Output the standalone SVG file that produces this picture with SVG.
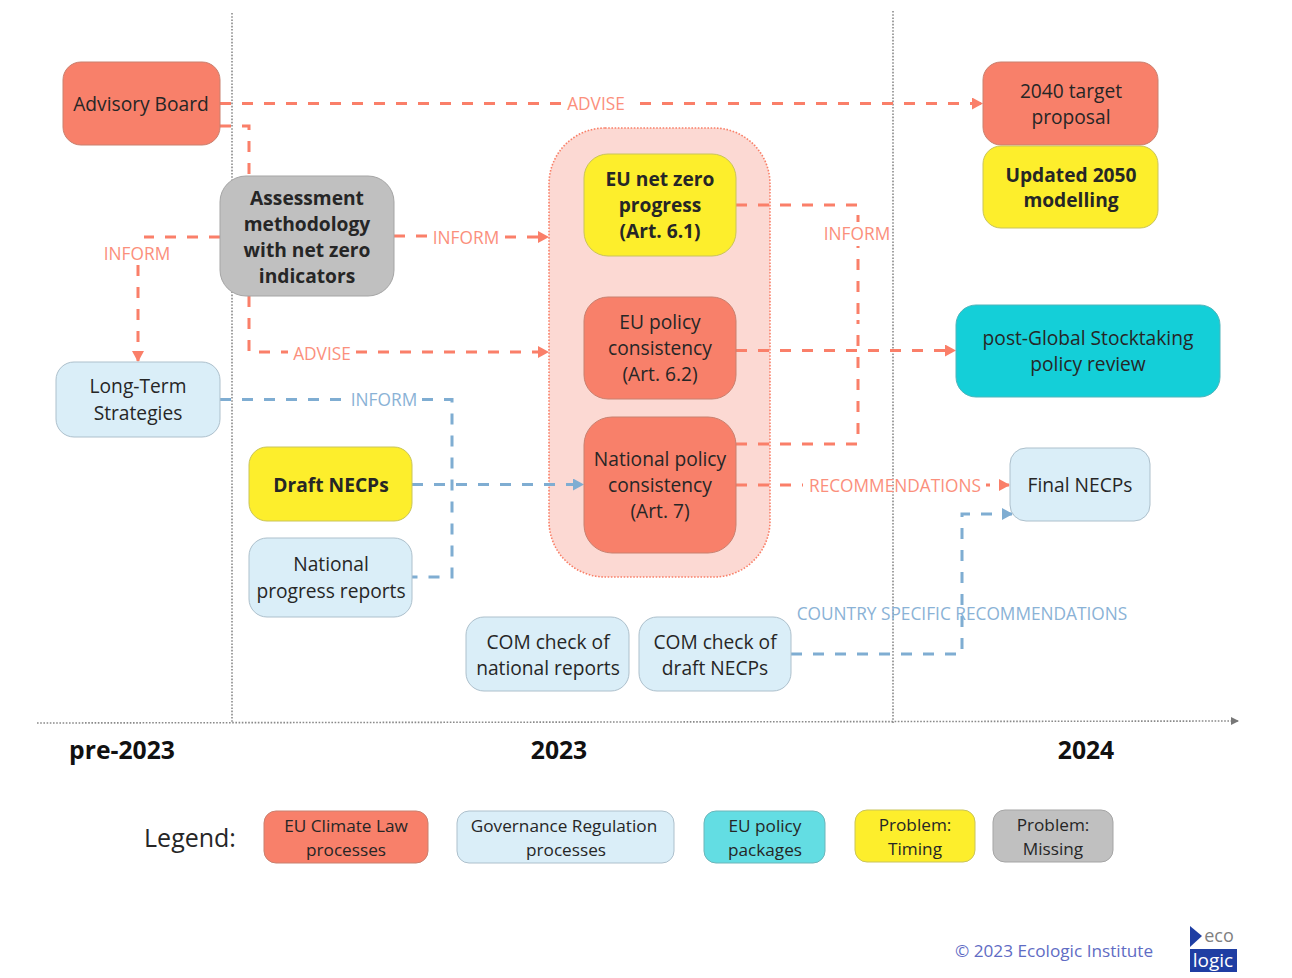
<svg xmlns="http://www.w3.org/2000/svg" width="1292" height="978" viewBox="0 0 1292 978">
<style>
text{font-family:"Open Sans","Noto Sans","Liberation Sans",sans-serif;text-anchor:middle;fill:#262626;font-size:19.2px}
.b{font-weight:700}
.n{stroke-width:1}
.red{fill:#f8806a;stroke:#c9806f}
.blue{fill:#daeef8;stroke:#adc0cc}
.yel{fill:#fdee2c;stroke:#c9c45a}
.gry{fill:#c0c0c0;stroke:#a5a5a5}
.tea{fill:#14cfd8;stroke:#4fb5bb}
.tea2{fill:#63dde3;stroke:#6cb5b9}
.lr{fill:#fb8f7c;font-size:17.3px}
.lb{fill:#8ab2d6;font-size:17.3px}
.lg{font-size:17.2px}
.y{font-size:24.700px;fill:#111}
.cr{fill:none;stroke:#fa7f69;stroke-width:3;stroke-dasharray:11 11}
.cb{fill:none;stroke:#7fadd2;stroke-width:3;stroke-dasharray:11 11}
.time{fill:none;stroke:#8a8a8a;stroke-width:1.6;stroke-dasharray:1.6 1.6}
</style>
<defs>
<marker id="ar" markerUnits="userSpaceOnUse" markerWidth="11" markerHeight="12" refX="10" refY="6" orient="auto"><path d="M0 0L11 6L0 12Z" fill="#fa7f69"/></marker>
<marker id="ab" markerUnits="userSpaceOnUse" markerWidth="11" markerHeight="12" refX="10" refY="6" orient="auto"><path d="M0 0L11 6L0 12Z" fill="#7fadd2"/></marker>
<marker id="at" markerUnits="userSpaceOnUse" markerWidth="8" markerHeight="8" refX="7" refY="4" orient="auto"><path d="M0 0L8 4L0 8Z" fill="#777"/></marker>
</defs>
<g id="timeline">
<path class="time" d="M232 13V723"/>
<path class="time" d="M893 11V723"/>
<path class="time" d="M37 723L1238 721" marker-end="url(#at)"/>
<text class="b y" x="122" y="759">pre-2023</text>
<text class="b y" x="559" y="759">2023</text>
<text class="b y" x="1086" y="759">2024</text>
</g>
<g id="group-art"><rect x="549" y="128" width="221" height="449" rx="56" fill="#fcd9d3" stroke="#f98069" stroke-width="1.6" stroke-dasharray="1.6 1.6"/></g>
<g id="connectors">
<path class="cr" d="M220 103.500H562"/>
<path class="cr" d="M640 103.500H982" marker-end="url(#ar)"/>
<path class="cr" d="M220 126H249V176"/>
<path class="cr" d="M220 237H144"/>
<path class="cr" d="M138 265V361" marker-end="url(#ar)"/>
<path class="cr" d="M394 236H428"/>
<path class="cr" d="M505 237H548" marker-end="url(#ar)"/>
<path class="cr" d="M249 296V352H288"/>
<path class="cr" d="M356 352H548" marker-end="url(#ar)"/>
<path class="cr" d="M736 205H858V320"/>
<path class="cr" d="M736 444H858V320"/>
<path class="cr" d="M736 350.500H955" marker-end="url(#ar)"/>
<path class="cr" d="M736 485H803"/>
<path class="cr" d="M986 485H990M999 485H1009" style="stroke-dasharray:none" marker-end="url(#ar)"/>
<path class="cb" d="M220 399.500H346"/>
<path class="cb" d="M422 399.500H452V577H412"/>
<path class="cb" d="M412 484.500H583" marker-end="url(#ab)"/>
<path class="cb" d="M791 654H962V514H1012" marker-end="url(#ab)"/>
</g>
<g id="connector-labels">
<rect x="822" y="222" width="68" height="24" fill="#fff"/>
<text class="lr" x="596" y="110">ADVISE</text>
<text class="lr" x="137" y="260">INFORM</text>
<text class="lr" x="466" y="243.500">INFORM</text>
<text class="lr" x="322" y="360">ADVISE</text>
<text class="lr" x="857" y="240">INFORM</text>
<text class="lr" x="895" y="491.500">RECOMMENDATIONS</text>
<text class="lb" x="384" y="406">INFORM</text>
<text class="lb" x="962" y="620">COUNTRY SPECIFIC RECOMMENDATIONS</text>
</g>
<g id="advisory-board"><rect class="n red" x="63" y="62" width="157" height="83" rx="18"/><text x="141" y="111">Advisory Board</text></g>
<g id="assessment"><rect class="n gry" x="220" y="176" width="174" height="120" rx="26"/><text class="b" x="307" y="204.500">Assessment</text><text class="b" x="307" y="230.500">methodology</text><text class="b" x="307" y="256.500">with net zero</text><text class="b" x="307" y="282.500">indicators</text></g>
<g id="lts"><rect class="n blue" x="56" y="362" width="164" height="75" rx="18"/><text x="138" y="393">Long-Term</text><text x="138" y="419.500">Strategies</text></g>
<g id="draft-necps"><rect class="n yel" x="249" y="447" width="163" height="74" rx="18"/><text class="b" x="331" y="491.500">Draft NECPs</text></g>
<g id="national-progress"><rect class="n blue" x="249" y="538" width="163" height="79" rx="18"/><text x="331" y="571">National</text><text x="331" y="597.500">progress reports</text></g>
<g id="eu-net-zero"><rect class="n yel" x="584" y="154" width="152" height="102" rx="24"/><text class="b" x="660" y="186">EU net zero</text><text class="b" x="660" y="212">progress</text><text class="b" x="660" y="238">(Art. 6.1)</text></g>
<g id="eu-policy"><rect class="n red" x="584" y="297" width="152" height="102" rx="24"/><text x="660" y="329">EU policy</text><text x="660" y="355">consistency</text><text x="660" y="381">(Art. 6.2)</text></g>
<g id="national-policy"><rect class="n red" x="584" y="417" width="152" height="136" rx="28"/><text x="660" y="466">National policy</text><text x="660" y="492">consistency</text><text x="660" y="518">(Art. 7)</text></g>
<g id="com-reports"><rect class="n blue" x="466" y="617" width="163" height="74" rx="18"/><text x="548" y="648.500">COM check of</text><text x="548" y="674.500">national reports</text></g>
<g id="com-draft"><rect class="n blue" x="639" y="617" width="152" height="74" rx="18"/><text x="715" y="648.500">COM check of</text><text x="715" y="674.500">draft NECPs</text></g>
<g id="target-2040"><rect class="n red" x="983" y="62" width="175" height="83" rx="18"/><text x="1071" y="98">2040 target</text><text x="1071" y="124">proposal</text></g>
<g id="modelling-2050"><rect class="n yel" x="983" y="146" width="175" height="82" rx="18"/><text class="b" x="1071" y="182">Updated 2050</text><text class="b" x="1071" y="207">modelling</text></g>
<g id="post-gst"><rect class="n tea" x="956" y="305" width="264" height="92" rx="20"/><text x="1088" y="345">post-Global Stocktaking</text><text x="1088" y="371">policy review</text></g>
<g id="final-necps"><rect class="n blue" x="1010" y="448" width="140" height="73" rx="16"/><text x="1080" y="491.500">Final NECPs</text></g>
<g id="legend">
<text x="190" y="847" style="font-size:25px">Legend:</text>
<rect class="n red" x="264" y="811" width="164" height="52" rx="12"/><text class="lg" x="346" y="832">EU Climate Law</text><text class="lg" x="346" y="856">processes</text>
<rect class="n blue" x="457" y="811" width="217" height="52" rx="12"/><text class="lg" x="564" y="832">Governance Regulation</text><text class="lg" x="566" y="856">processes</text>
<rect class="n tea2" x="704" y="811" width="121" height="52" rx="12"/><text class="lg" x="765" y="832">EU policy</text><text class="lg" x="765" y="856">packages</text>
<rect class="n yel" x="855" y="810" width="120" height="52" rx="12"/><text class="lg" x="915" y="831">Problem:</text><text class="lg" x="915" y="855">Timing</text>
<rect class="n gry" x="993" y="810" width="120" height="52" rx="12"/><text class="lg" x="1053" y="831">Problem:</text><text class="lg" x="1053" y="855">Missing</text>
</g>
<g id="footer">
<text class="lg" x="1054" y="957" style="fill:#5f6cc4">© 2023 Ecologic Institute</text>
<path d="M1190 926L1202 936L1190 947Z" fill="#1f3ea3"/>
<text x="1219" y="942" style="font-size:18px;fill:#7f7f7f">eco</text>
<rect x="1190" y="949" width="47" height="23" fill="#1f3ea3"/>
<text x="1213" y="966.500" style="font-size:19px;fill:#fff">logic</text>
</g>
</svg>
